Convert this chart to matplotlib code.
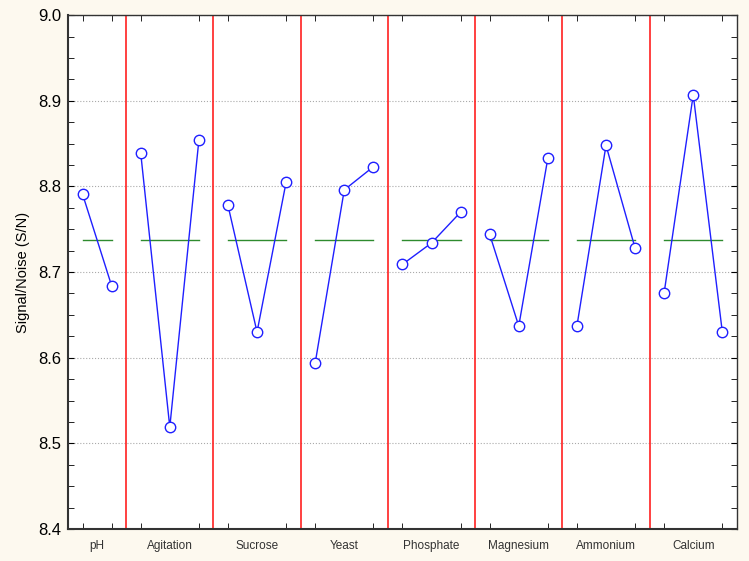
import matplotlib
matplotlib.use("Agg")
import matplotlib.pyplot as plt
from matplotlib.ticker import MultipleLocator, FixedLocator

# factors and their level means (S/N)
factors = ["pH", "Agitation", "Sucrose", "Yeast", "Phosphate",
           "Magnesium", "Ammonium", "Calcium"]
sn_values = [
    [8.791, 8.684],
    [8.839, 8.519, 8.854],
    [8.778, 8.630, 8.805],
    [8.594, 8.796, 8.823],
    [8.709, 8.734, 8.770],
    [8.744, 8.637, 8.833],
    [8.637, 8.848, 8.728],
    [8.676, 8.907, 8.630],
]
grand_mean = 8.738

plt.rcParams["font.family"] = ["Liberation Sans", "DejaVu Sans"]

fig = plt.figure(figsize=(7.49, 5.61), dpi=100, facecolor="#fdf9ef")
ax = fig.add_axes([0.0908, 0.057, 0.893, 0.916])
ax.set_facecolor("white")

pos = 1
centers = []
for i, vals in enumerate(sn_values):
    xs = list(range(pos, pos + len(vals)))
    ax.plot(xs, vals, "-", color="#1f1fff", lw=1.0, zorder=3)
    ax.plot(xs, vals, "o", ms=7.5, mfc="white", mec="#1f1fff", mew=1.0, zorder=4)
    ax.plot([xs[0], xs[-1]], [grand_mean, grand_mean], color="#2e8b2e", lw=1.0, zorder=2)
    centers.append((xs[0] + xs[-1]) / 2)
    pos += len(vals)
    if i < len(sn_values) - 1:
        ax.axvline(pos - 0.5, color="#ff2020", lw=1.2, zorder=2)

ax.set_xlim(0.5, pos - 0.5)
ax.set_ylim(8.4, 9.0)

ax.yaxis.set_major_locator(MultipleLocator(0.1))
ax.yaxis.set_minor_locator(MultipleLocator(0.025))
ax.set_yticklabels([f"{v:.1f}" for v in ax.get_yticks()])
ax.grid(axis="y", which="major", color="#aaaaaa", ls=":", lw=0.8)

ax.xaxis.set_minor_locator(FixedLocator(range(1, pos)))
ax.set_xticks(centers)
ax.set_xticklabels(factors, fontsize=8.5, color="#333333")
ax.tick_params(axis="x", which="major", length=0, pad=8)
ax.tick_params(axis="x", which="minor", direction="in", length=4, top=True)
ax.tick_params(axis="y", which="both", direction="in", length=4, right=True,
               labelsize=12, pad=5)

for s in ax.spines.values():
    s.set_color("#333333")
    s.set_linewidth(1.0)
ax.spines["left"].set_linewidth(1.5)
ax.spines["bottom"].set_linewidth(1.5)

ax.set_ylabel("Signal/Noise (S/N)", fontsize=10.5, labelpad=6)

fig.savefig("out.png", dpi=100, facecolor=fig.get_facecolor())
